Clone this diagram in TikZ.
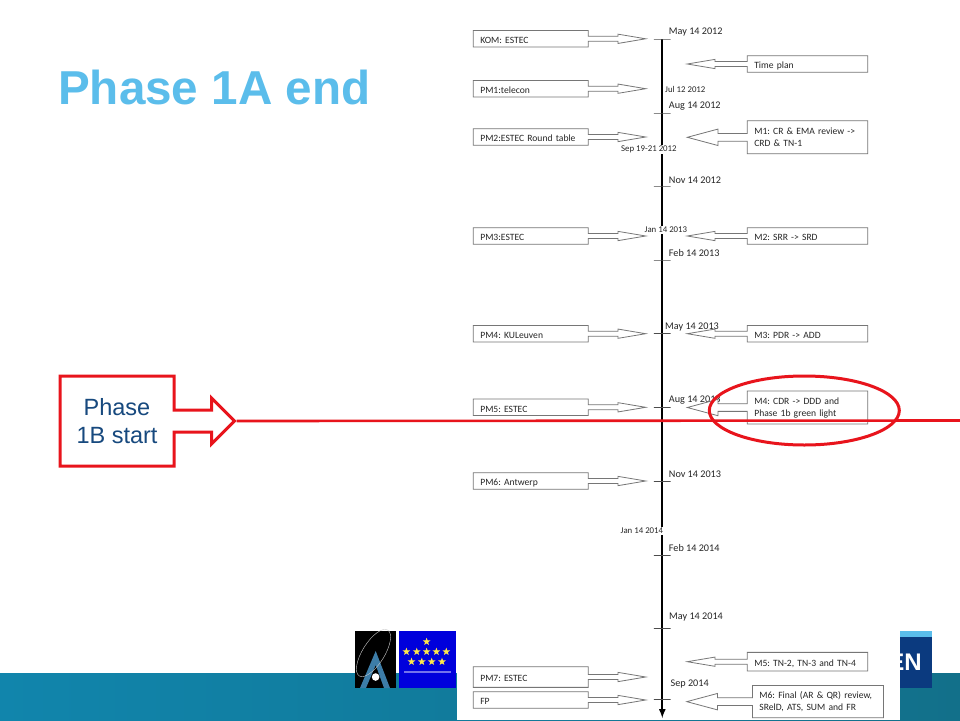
\documentclass[tikz,border=0pt]{standalone}
\usepackage{fontspec}
\setmainfont{Liberation Sans}
\newfontfamily\calibri{Carlito}
\usetikzlibrary{shapes.geometric, shapes.arrows, positioning}
\definecolor{slideblue}{HTML}{5BBDEB}
\definecolor{slidered}{HTML}{E8141C}
\definecolor{slidetext}{HTML}{17497E}
\definecolor{bandleft}{HTML}{1185AC}
\definecolor{bandright}{HTML}{12708A}
\definecolor{boxline}{HTML}{767676}
\definecolor{logoblue}{HTML}{0B3A7F}
\definecolor{logosteel}{HTML}{3D7DA8}
\definecolor{euroblue}{HTML}{0000DC}
\definecolor{staryellow}{HTML}{FFE84A}
\begin{document}
\begin{tikzpicture}[
    x=1pt, y=-1pt,
    pmbox/.style={draw=boxline, fill=white, thick, outer sep=0pt, align=left, font=\calibri\frenchspacing\fontsize{9.6}{12}\selectfont, text=black!85, shape=arrow box, inner xsep=7pt, inner ysep=3.3pt, text width=101pt, text height=9.9pt, text depth=0pt, arrow box shaft width=5pt, arrow box head extend=2.15pt, arrow box tip angle=19, arrow box arrows={east:57.4pt from border}},
    mbox/.style={pmbox, text width=106.4pt, arrow box arrows={west:60pt from border}},
    mboxtall/.style={mbox, text height=, text depth=, minimum height=33pt, arrow box shaft width=7.7pt, arrow box head extend=4.35pt, arrow box tip angle=30},
    datelabel/.style={font=\calibri\fontsize{10.2}{12}\selectfont, text=black!85, inner sep=0pt, anchor=west},
    smalldate/.style={font=\calibri\fontsize{8.8}{10}\selectfont, text=black!85, inner sep=1pt, fill=white, anchor=west},
    tickmark/.style={draw=black!70, minimum width=16.7pt, minimum height=0pt, inner sep=0pt, shape=rectangle},
    eustar/.style={star, star points=5, star point ratio=2.4, fill=staryellow, inner sep=0pt, minimum size=8pt}
]
    \useasboundingbox (0,0) rectangle (960,720);
    % Slide background
    \fill[white] (0,0) rectangle (960,720);
    \shade[left color=bandleft, right color=bandright] (0,673) rectangle (960,720);
    \fill[white] (457,0) rectangle (900,720);
    % Logos at the foot of the slide
    \fill[black] (355,631) rectangle (396,688);
    \fill[logosteel] (375.7,651) -- (390,688) -- (384,688) -- (375.7,665) -- (366,688) -- (360,688) -- cycle;
    \draw[white!80!black, thin, rotate around={-32:(373.5,653)}] (373.5,653) ellipse (11 and 27);
    \fill[white] (375.6,677) circle (3.8);
    \fill[euroblue] (399,631) rectangle (456,688);
    \node[eustar] (s1) at (426.6,641.7) {};
    \node[eustar] (s2) at (406.4,651.7) {};
    \node[eustar] (s3) at (416.7,651.7) {};
    \node[eustar] (s4) at (426.6,651.7) {};
    \node[eustar] (s5) at (436.4,651.7) {};
    \node[eustar] (s6) at (446.3,651.7) {};
    \node[eustar] (s7) at (411.5,661.7) {};
    \node[eustar] (s8) at (421.8,661.7) {};
    \node[eustar] (s9) at (431.7,661.7) {};
    \node[eustar] (s10) at (442,661.7) {};
    \draw[euroblue!55!white, line width=1.2pt] (404.4,672) -- (451,672);
    \fill[logoblue] (900,636.7) rectangle (932,688);
    \fill[slideblue] (900,631) rectangle (932,636.7);
    \begin{scope}
        \clip (900,636.7) rectangle (932,688);
        \node[font=\bfseries\fontsize{24}{24}\selectfont, text=white, inner sep=0pt, anchor=east] (logotext) at (922,662) {EN};
    \end{scope}
    \node[font=\bfseries\fontsize{47.6}{50}\selectfont, text=slideblue, inner sep=0pt, anchor=west] (title) at (58,87) {Phase 1A end};
    % Timeline and its ticks
    \coordinate (top) at (662.3,39);
    \coordinate (bottom) at (662.3,718);
    \draw[line width=2pt, -latex] (top) -- (bottom);
    \node[tickmark] (may12) at (662.3,39) {};
    \node[tickmark] (aug12) at (662.3,113) {};
    \node[tickmark] (nov12) at (662.3,186) {};
    \node[tickmark] (feb13) at (662.3,260) {};
    \node[tickmark] (may13) at (662.3,333.4) {};
    \node[tickmark] (aug13) at (662.3,407.3) {};
    \node[tickmark] (nov13) at (662.3,481.2) {};
    \node[tickmark] (feb14) at (662.3,554.7) {};
    \node[tickmark] (may14) at (662.3,628.3) {};
    \node[tickmark] (sep14) at (662.3,699.5) {};
    % Dates
    \node[datelabel] (d1) at (668.7,32.3) {May 14 2012};
    \node[smalldate] (d2) at (664,89) {Jul 12 2012};
    \node[datelabel] (d3) at (668.7,106) {Aug 14 2012};
    \node[smalldate] (d4) at (620,149.7) {Sep 19-21 2012};
    \node[datelabel] (d5) at (668.7,180) {Nov 14 2012};
    \node[smalldate] (d6) at (643.5,230) {Jan 14 2013};
    \node[datelabel] (d7) at (668.7,253.3) {Feb 14 2013};
    \node[datelabel] (d8) at (665,327) {May 14 2013};
    \node[datelabel] (d9) at (668.7,400.3) {Aug 14 2013};
    \node[datelabel] (d10) at (668.7,474.3) {Nov 14 2013};
    \node[smalldate] (d11) at (619.5,530.7) {Jan 14 2014};
    \node[datelabel] (d12) at (668.7,548.3) {Feb 14 2014};
    \node[datelabel] (d13) at (669,616.7) {May 14 2014};
    \node[datelabel] (d14) at (670.4,684.3) {Sep 2014};
    % Meetings on the left
    \node[pmbox] (kom) at (530.8,38.8) {KOM: ESTEC};
    \node[pmbox, below=33.4pt of kom] (pm1) {PM1:telecon};
    \node[pmbox, below=31.8pt of pm1] (pm2) {PM2:ESTEC Round table};
    \node[pmbox, below=82.5pt of pm2] (pm3) {PM3:ESTEC};
    \node[pmbox, below=81.2pt of pm3] (pm4) {PM4: KULeuven};
    \node[pmbox, below=57.1pt of pm4] (pm5) {PM5: ESTEC};
    \node[pmbox, below=57.2pt of pm5] (pm6) {PM6: Antwerp};
    \node[pmbox, minimum height=20.7pt, below=177.4pt of pm6] (pm7) {PM7: ESTEC};
    \node[pmbox, below=4.4pt of pm7] (fp) {FP};
    % Deliverables on the right
    \node[mbox] (plan) at (807.5,64) {Time plan};
    \node[mboxtall, below=48.55pt of plan] (m1) {M1: CR \& EMA review ->\\CRD \& TN-1};
    \node[mbox, below=73.95pt of m1] (m2) {M2: SRR -> SRD};
    \node[mbox, below=81.2pt of m2] (m3) {M3: PDR -> ADD};
    \node[mboxtall, below=49.05pt of m3] (m4) {M4: CDR -> DDD and\\Phase 1b green light};
    \node[mbox, minimum height=18.7pt, below=228.35pt of m4] (m5) {M5: TN-2, TN-3 and TN-4};
    \node[mboxtall, minimum height=32.3pt, text width=117pt, arrow box arrows={west:65.6pt from border}, below=14.45pt of m5, xshift=10.4pt] (m6) {M6: Final (AR \& QR) review,\\SRelD, ATS, SUM and FR};
    % Phase marker
    \node[shape=arrow box, draw=slidered, line width=3pt, fill=white, align=center, text=slidetext, font=\fontsize{23.5}{28}\selectfont, minimum width=114pt, minimum height=90pt, arrow box shaft width=22pt, arrow box head extend=12pt, arrow box tip angle=90, arrow box arrows={east:59pt from border}] (phase) at (117,421) {Phase\\1B start};
    \coordinate (lineend) at (960,420.5);
    \draw[slidered, line width=2.6pt] (phase.east arrow tip) -- (lineend);
    \node[draw=slidered, line width=3pt, ellipse, minimum width=190pt, minimum height=69pt, inner sep=0pt] (m4ring) at (804.3,410.5) {};
\end{tikzpicture}
\end{document}
